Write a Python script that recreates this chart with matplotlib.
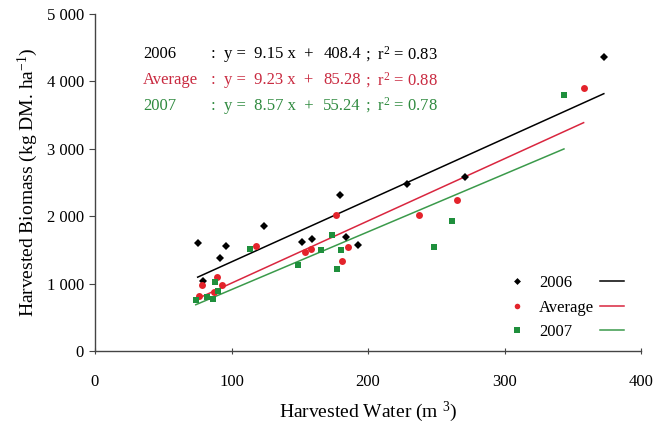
import matplotlib.pyplot as plt
from matplotlib.lines import Line2D

plt.rcParams['font.family'] = ['Liberation Serif', 'DejaVu Serif']
plt.rcParams['mathtext.fontset'] = 'custom'
plt.rcParams['mathtext.rm'] = 'Liberation Serif'
plt.rcParams['mathtext.it'] = 'Liberation Serif:italic'

# Datos
x_2006 = [75.2, 79.4, 91.7, 96.1, 124.0, 151.7, 158.6, 179.2, 184.0, 192.9, 228.2, 270.6, 372.6]
y_2006 = [1606, 1034, 1374, 1556, 1856, 1620, 1664, 2314, 1699, 1570, 2471, 2575, 4368]

x_avg = [76.0, 78.2, 87.5, 89.7, 92.9, 118.1, 153.7, 158.1, 176.7, 180.6, 185.5, 237.5, 265.2, 357.8]
y_avg = [812, 975, 882, 1103, 985, 1561, 1477, 1507, 2014, 1334, 1541, 2014, 2240, 3905]

x_2007 = [73.8, 82.1, 86.5, 88.0, 90.0, 113.7, 148.3, 165.2, 173.8, 177.5, 179.9, 248.5, 261.5, 343.4]
y_2007 = [753, 802, 778, 1024, 886, 1517, 1270, 1502, 1724, 1211, 1502, 1541, 1925, 3796]

# Ecuaciones de regresion
series = ['2006', 'Average', '2007']
pendientes = [9.15, 9.23, 8.57]
intercepts = [408.4, 85.28, 55.24]
r2 = [0.83, 0.88, 0.78]

x_ticks = [0, 100, 200, 300, 400]
y_ticks = [0, 1000, 2000, 3000, 4000, 5000]
y_tick_labels = ['0', '1 000', '2 000', '3 000', '4 000', '5 000']

col_pts = ['black', '#e3232b', '#1f8f3c']
col_lin = ['black', '#d9263f', '#3b9a4b']
col_txt = ['black', '#c92a40', '#2f8a3f']
markers = ['D', 'o', 's']
msizes = [4.5, 5, 5]

fig = plt.figure(figsize=(6.67, 4.23), dpi=100)
ax = fig.add_axes([0.1424, 0.170, 0.819, 0.797])

xs = [x_2006, x_avg, x_2007]
ys = [y_2006, y_avg, y_2007]
pt_handles = []
ln_handles = []
for i in range(3):
    ax.plot(xs[i], ys[i], linestyle='none', marker=markers[i], ms=msizes[i],
            color=col_pts[i], markeredgewidth=0, zorder=3)
    x0, x1 = min(xs[i]), max(xs[i])
    ax.plot([x0, x1], [pendientes[i] * x0 + intercepts[i], pendientes[i] * x1 + intercepts[i]],
            color=col_lin[i], lw=1.1, zorder=2)
    pt_handles.append(Line2D([], [], linestyle='none', marker=markers[i], ms=msizes[i] - 1,
                             color=col_pts[i], markeredgewidth=0))
    ln_handles.append(Line2D([], [], color=col_lin[i], lw=1.1))

ax.set_xlim(0, 400)
ax.set_ylim(0, 5000)
ax.set_xticks(x_ticks)
ax.set_yticks(y_ticks)
ax.set_yticklabels(y_tick_labels)
ax.spines['top'].set_visible(False)
ax.spines['right'].set_visible(False)
for s in ['left', 'bottom']:
    ax.spines[s].set_color('#444444')
    ax.spines[s].set_linewidth(1.0)
ax.tick_params(axis='y', direction='out', length=4, labelsize=12, pad=4, color='#444444')
ax.tick_params(axis='x', direction='inout', length=5, labelsize=12, pad=14, color='#444444')

ax.set_xlabel('Harvested Water (m $^{3}$)', fontsize=14, labelpad=7)
ax.set_ylabel('Harvested Biomass (kg DM. ha$^{-1}$)', fontsize=14, labelpad=5)

# Ecuaciones
fila_y = [0.880, 0.803, 0.728]
for i in range(3):
    ax.text(0.088, fila_y[i], series[i], transform=ax.transAxes, fontsize=12,
            color=col_txt[i], va='center')
    ax.text(0.213, fila_y[i], ':  y =  %.2f x  +' % pendientes[i], transform=ax.transAxes,
            fontsize=12, color=col_txt[i], va='center')
    interc = '%.1f' % intercepts[i] if i == 0 else '%.2f' % intercepts[i]
    ax.text(0.487, fila_y[i], interc, transform=ax.transAxes, fontsize=12,
            color=col_txt[i], va='center', ha='right')
    ax.text(0.494, fila_y[i], ';  r$^2$ = %.2f' % r2[i], transform=ax.transAxes, fontsize=12,
            color=col_txt[i], va='center')

leg1 = ax.legend(pt_handles, series, loc='upper left', bbox_to_anchor=(0.758, 0.225),
                 frameon=False, fontsize=12, handlelength=1.0, handletextpad=0.8,
                 labelspacing=0.5, borderpad=0, borderaxespad=0)
ax.add_artist(leg1)
ax.legend(ln_handles, ['', '', ''], loc='upper left', bbox_to_anchor=(0.925, 0.225),
          frameon=False, fontsize=12, handlelength=1.4, handletextpad=0,
          labelspacing=0.5, borderpad=0, borderaxespad=0)

fig.savefig('out.png', dpi=100)
